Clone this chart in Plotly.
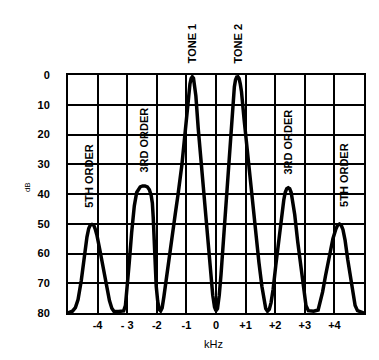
import plotly.graph_objects as go

# Spectrum trace (frequency offset in kHz, level in dB below tone peak)
freq_khz = [-5.0, -4.85, -4.75, -4.66, -4.55, -4.45, -4.36, -4.3, -4.25, -4.19, -4.13, -4.08,
            -4.02, -3.92, -3.82, -3.7, -3.6, -3.52, -3.45, -3.3, -3.12, -3.06, -3.0, -2.93,
            -2.85, -2.76, -2.68, -2.62, -2.56, -2.48, -2.4, -2.32, -2.25, -2.19, -2.15,
            -2.12, -2.09, -2.06, -2.02, -1.97, -1.92, -1.87, -1.82, -1.76, -1.65, -1.5,
            -1.38, -1.28, -1.15, -1.05, -0.97, -0.92, -0.88, -0.84, -0.8, -0.76, -0.72,
            -0.68, -0.6, -0.5, -0.4, -0.32, -0.25, -0.18, -0.11, -0.05, 0.0, 0.05, 0.11,
            0.17, 0.23, 0.3, 0.37, 0.43, 0.5, 0.57, 0.62, 0.66, 0.7, 0.74, 0.78, 0.82,
            0.86, 0.95, 1.05, 1.15, 1.25, 1.35, 1.45, 1.55, 1.62, 1.68, 1.74, 1.8, 1.86,
            1.93, 2.02, 2.12, 2.22, 2.29, 2.34, 2.39, 2.44, 2.49, 2.54, 2.59, 2.66, 2.76,
            2.88, 2.97, 3.04, 3.12, 3.3, 3.45, 3.52, 3.6, 3.7, 3.82, 3.95, 4.05, 4.11,
            4.17, 4.23, 4.29, 4.36, 4.45, 4.55, 4.63, 4.7, 4.78, 4.88, 5.0]
level_db = [80, 79.4, 78.2, 75.5, 69, 61, 54.5, 51.6, 50.5, 50.2, 50.5, 51.8,
            54, 59, 64.5, 71, 75.8, 78.4, 79.4, 79.5, 79.3, 77.5, 72, 63,
            53, 44, 39.5, 38.2, 37.6, 37.3, 37.3, 37.6, 38.6, 40.5, 43,
            48, 55, 63, 71, 76, 78.8, 79.3, 78.3, 74.5, 66, 56,
            47, 40, 30, 20, 11, 6, 3, 1.2, 0.6, 1.1, 3.5,
            7, 18, 29, 40, 49, 58, 67, 74, 78, 79.3, 78.5, 74,
            67, 58, 48, 38, 29, 19, 9, 4, 1.6, 0.7, 0.6, 1.2, 3,
            5.5, 15, 25, 35, 45, 54, 63, 71, 75.8, 78.5, 79.4, 78.8, 76.5,
            72, 64, 55, 47, 42, 39.4, 38.2, 37.9, 38.2, 39.5, 42, 47, 56,
            66, 73, 77.5, 79.2, 79.4, 79, 76.5, 73, 67.5, 61, 55, 51.8, 50.4,
            50.1, 50.5, 52, 55.5, 62, 69, 74.5, 77.5, 79.2, 79.6, 80]

x_tick_vals = [-4, -3, -2, -1, 0, 1, 2, 3, 4]
x_tick_text = ["-4", "- 3", "-2", "-1", "0", "+1", "+2", "+3", "+4"]
y_tick_vals = [0, 10, 20, 30, 40, 50, 60, 70, 80]

# Vertical labels above / inside the plot
tone_labels = ["TONE 1", "TONE 2"]
tone_x = [-0.82, 0.74]
order_labels = ["5TH ORDER", "3RD ORDER", "3RD ORDER", "5TH ORDER"]
order_x = [-4.3, -2.43, 2.4, 4.3]
order_y = [34, 22, 22.7, 33.5]

FONT = "Liberation Sans, Arial, DejaVu Sans"

fig = go.Figure()
fig.add_trace(go.Scatter(
    x=freq_khz, y=level_db, mode="lines",
    line=dict(color="black", width=3.5, shape="linear"),
    hoverinfo="skip", showlegend=False,
))

annotations = []
for t, x in zip(tone_labels, tone_x):
    annotations.append(dict(
        x=x, xref="x", y=1.132, yref="paper", text=t, textangle=-90,
        showarrow=False, xanchor="center", yanchor="middle",
        font=dict(family=FONT, size=11, color="black", weight="bold"),
    ))
for t, x, y in zip(order_labels, order_x, order_y):
    annotations.append(dict(
        x=x, xref="x", y=y, yref="y", text=t, textangle=-90,
        showarrow=False, xanchor="center", yanchor="middle",
        font=dict(family=FONT, size=11, color="black", weight="bold"),
    ))
annotations.append(dict(
    x=-0.1385, xref="paper", y=0.529, yref="paper", text="dB", textangle=-90,
    showarrow=False, xanchor="center", yanchor="middle",
    font=dict(family=FONT, size=8, color="black"),
))
annotations.append(dict(
    x=0.49, xref="paper", y=-0.13, yref="paper", text="kHz",
    showarrow=False, xanchor="center", yanchor="middle",
    font=dict(family=FONT, size=11, color="black"),
))

# The page body adds an 8 px margin, so the figure is sized/offset to compensate.
fig.update_layout(
    width=371, height=352,
    margin=dict(l=60, r=15, t=67, b=47),
    paper_bgcolor="white", plot_bgcolor="white",
    annotations=annotations,
    xaxis=dict(
        range=[-5, 5], tickvals=x_tick_vals, ticktext=x_tick_text,
        showgrid=True, gridcolor="black", gridwidth=2,
        showline=True, linecolor="black", linewidth=2, mirror=True,
        zeroline=False, ticks="", ticklabelstandoff=1, automargin=False,
        tickfont=dict(family=FONT, size=11, color="black", weight="bold"),
    ),
    yaxis=dict(
        range=[80, 0], tickvals=y_tick_vals,
        showgrid=True, gridcolor="black", gridwidth=2,
        showline=True, linecolor="black", linewidth=2, mirror=True,
        zeroline=False, ticks="", ticklabelstandoff=14, automargin=False,
        tickfont=dict(family=FONT, size=11, color="black", weight="bold"),
    ),
)

fig.write_html("out.html")
